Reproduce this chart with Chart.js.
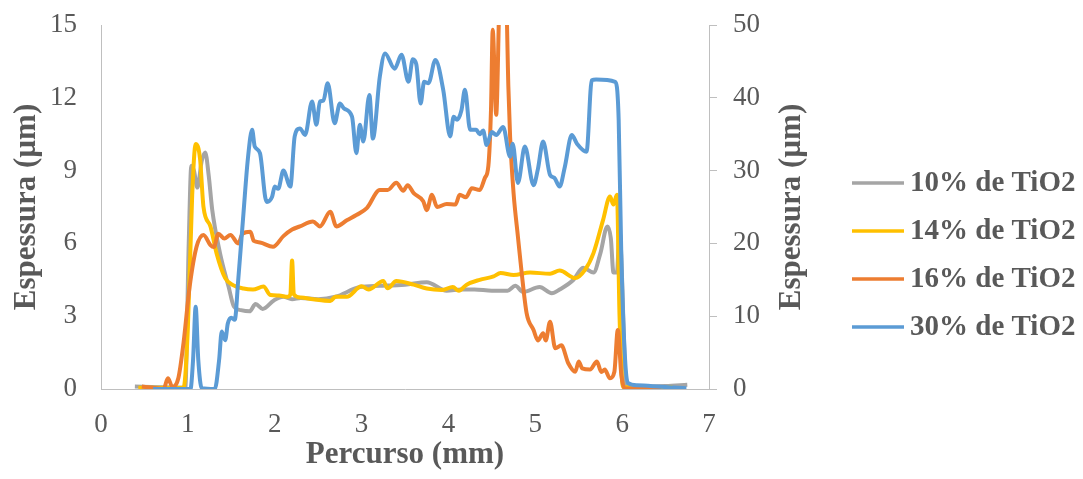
<!DOCTYPE html>
<html>
<head>
<meta charset="utf-8">
<script src="https://cdn.jsdelivr.net/npm/chart.js@4.4.1/dist/chart.umd.min.js"></script>
<style>
  body { margin: 0; background: #fff; }
  canvas { display: block; }
</style>
</head>
<body>
<canvas id="myChart" width="1083" height="479"></canvas>
<script>
'use strict';

let seriesNames = ['10% de TiO2', '14% de TiO2', '16% de TiO2', '30% de TiO2'];

let x10 = [0.39, 0.97, 1.01, 1.04, 1.07, 1.11, 1.16, 1.2, 1.24, 1.28, 1.37, 1.47, 1.53, 1.61, 1.71, 1.78, 1.86, 1.99, 2.1, 2.2, 2.3, 2.5, 2.7, 2.98, 3.21, 3.5, 3.75, 3.98, 4.15, 4.3, 4.5, 4.68, 4.77, 4.86, 5.05, 5.19, 5.28, 5.44, 5.55, 5.67, 5.75, 5.83, 5.87, 5.9, 5.94, 5.97, 6.05, 6.3, 6.5, 6.75];
let y10 = [0.1, 0.05, 6, 9.2, 9.0, 8.3, 9.4, 9.75, 8.8, 7.4, 5.6, 4.2, 3.4, 3.25, 3.2, 3.5, 3.3, 3.65, 3.8, 3.7, 3.75, 3.7, 3.8, 4.2, 4.25, 4.3, 4.4, 4.05, 4.1, 4.1, 4.05, 4.05, 4.25, 4.0, 4.2, 3.95, 4.1, 4.5, 5.0, 4.8, 5.6, 6.7, 6.2, 4.8, 4.8, 6.5, 0.1, 0.1, 0.12, 0.18];

let x14 = [0.43, 0.95, 1.0, 1.05, 1.09, 1.14, 1.18, 1.26, 1.33, 1.43, 1.52, 1.64, 1.75, 1.87, 1.95, 2.05, 2.15, 2.18, 2.2, 2.22, 2.3, 2.44, 2.64, 2.7, 2.83, 3.0, 3.08, 3.25, 3.3, 3.4, 3.6, 3.75, 3.92, 4.05, 4.12, 4.21, 4.36, 4.52, 4.6, 4.75, 4.94, 5.17, 5.28, 5.46, 5.57, 5.67, 5.78, 5.86, 5.9, 5.94, 5.97, 6.01, 6.3, 6.58];
let y14 = [0.05, 0.05, 2.5, 8, 10.1, 9.5, 7.5, 6.7, 5.6, 4.57, 4.28, 4.14, 4.1, 4.22, 3.87, 3.85, 3.8, 3.9, 5.3, 3.9, 3.77, 3.7, 3.63, 3.8, 3.8, 4.23, 4.1, 4.45, 4.15, 4.45, 4.3, 4.14, 4.08, 4.2, 4.05, 4.3, 4.5, 4.64, 4.78, 4.7, 4.8, 4.75, 4.88, 4.57, 4.9, 5.6, 6.96, 7.93, 7.6, 8.0, 3, 0.08, 0.05, 0.08];

let x16 = [0.47, 0.6, 0.72, 0.77, 0.82, 0.89, 0.95, 1.02, 1.1, 1.18, 1.26, 1.3, 1.35, 1.42, 1.49, 1.58, 1.63, 1.72, 1.76, 1.83, 1.98, 2.1, 2.2, 2.29, 2.44, 2.52, 2.64, 2.71, 2.83, 2.94, 3.06, 3.21, 3.3, 3.4, 3.48, 3.53, 3.6, 3.71, 3.75, 3.81, 3.87, 3.98, 4.08, 4.13, 4.2, 4.27, 4.36, 4.42, 4.46, 4.49, 4.51, 4.55, 4.59, 4.62, 4.66, 4.69, 4.71, 4.75, 4.8, 4.84, 4.9, 4.98, 5.03, 5.09, 5.12, 5.17, 5.23, 5.3, 5.38, 5.46, 5.5, 5.54, 5.63, 5.71, 5.76, 5.8, 5.86, 5.91, 5.95, 5.99, 6.03, 6.2, 6.45];
let y16 = [0.1, 0.05, 0, 0.44, 0.1, 0.44, 1.9, 4.2, 5.86, 6.35, 5.93, 5.85, 6.4, 6.2, 6.35, 6.0, 6.4, 6.48, 6.1, 6.04, 5.86, 6.3, 6.57, 6.7, 6.9, 6.7, 7.3, 6.7, 6.95, 7.17, 7.45, 8.2, 8.2, 8.5, 8.17, 8.4, 8.07, 7.74, 7.37, 8.0, 7.5, 7.62, 7.6, 8.0, 7.9, 8.27, 8.2, 8.7, 9.2, 11.5, 14.8, 11.3, 16.5, 18, 17, 12.46, 10.4, 8.07, 6.28, 4.9, 3.13, 2.43, 2.0, 2.3, 2.0, 2.77, 1.68, 1.8, 1.06, 0.71, 1.13, 0.85, 0.8, 1.13, 0.7, 0.8, 0.44, 0.7, 2.43, 0.6, 0.02, 0.02, 0.05];

let x30 = [0.6, 1.03, 1.06, 1.09, 1.12, 1.16, 1.31, 1.36, 1.39, 1.43, 1.46, 1.5, 1.54, 1.58, 1.64, 1.69, 1.74, 1.77, 1.83, 1.89, 1.91, 1.97, 2.0, 2.04, 2.1, 2.18, 2.23, 2.29, 2.35, 2.43, 2.48, 2.52, 2.56, 2.61, 2.69, 2.75, 2.8, 2.89, 2.94, 2.98, 3.02, 3.09, 3.13, 3.21, 3.27, 3.38, 3.46, 3.54, 3.59, 3.63, 3.68, 3.72, 3.77, 3.85, 3.94, 4.02, 4.06, 4.1, 4.15, 4.19, 4.25, 4.32, 4.36, 4.4, 4.44, 4.5, 4.55, 4.63, 4.71, 4.74, 4.8, 4.88, 4.98, 5.03, 5.09, 5.17, 5.22, 5.28, 5.34, 5.42, 5.48, 5.59, 5.65, 5.7, 5.92, 5.96, 5.99, 6.03, 6.07, 6.17, 6.45, 6.74];
let y30 = [0, 0, 4, 11.3, 4, 0.1, 0, 4, 7.9, 6.7, 9.0, 9.8, 9.5, 15, 24.1, 31.5, 35.6, 33.3, 32.4, 26.4, 25.7, 26.4, 27.8, 27.5, 30.0, 27.8, 34.7, 35.8, 34.9, 39.5, 36.3, 39.5, 39.6, 42, 36.5, 39.2, 38.5, 37.4, 32.4, 36.3, 34, 40.4, 34.4, 42.9, 46.1, 44, 45.9, 42.2, 45.3, 44.6, 39.2, 42.2, 42, 45.2, 41.1, 34.7, 37.4, 37.0, 38.3, 41.1, 35.6, 35.6, 35.0, 35.5, 33.5, 35.3, 34.9, 36, 31.9, 33.7, 28.3, 33.3, 28, 30.2, 34, 29.4, 29.0, 27.8, 30.5, 34.9, 33.7, 32.6, 42.4, 42.5, 42.2, 37, 18.6, 4.9, 0.8, 0.5, 0.3, 0.1];

let xTicks = [0, 7, 1];
let leftTicks = [0, 15, 3];
let rightTicks = [0, 50, 10];

let colors = ['#A5A5A5', '#FFC000', '#ED7D31', '#5B9BD5'];
let textColor = '#595959';
let axisColor = '#BFBFBF';
let fontName = '"Liberation Serif", "Times New Roman", serif';

function points(xs, ys) {
    let out = [];
    for (let i = 0; i < xs.length; i++) {
        out.push({ x: xs[i], y: ys[i] });
    }
    return out;
}

function makeSet(i, xs, ys, axis, order) {
    return {
        label: seriesNames[i],
        data: points(xs, ys),
        borderColor: colors[i],
        backgroundColor: colors[i],
        borderWidth: 4,
        pointRadius: 0,
        cubicInterpolationMode: 'monotone',
        yAxisID: axis,
        order: order
    };
}

// fixed box sizes so the plot area lands where Excel put it
function fixWidth(w) {
    return function(s) {
        s.width = w;
        s.paddingTop = 0;
        s.paddingBottom = 0;
    };
}

// legend and right axis title are drawn by hand (Excel style)
let extras = {
    id: 'extras',
    afterDraw(chart) {
        let ctx = chart.ctx;
        ctx.save();
        ctx.fillStyle = textColor;
        ctx.font = 'bold 31px ' + fontName;
        ctx.textAlign = 'center';
        ctx.textBaseline = 'middle';
        ctx.translate(792, (chart.chartArea.top + chart.chartArea.bottom) / 2);
        ctx.rotate(-Math.PI / 2);
        ctx.fillText('Espessura (µm)', 0, 0);
        ctx.restore();

        ctx.save();
        ctx.font = 'bold 29px ' + fontName;
        ctx.textAlign = 'left';
        ctx.textBaseline = 'middle';
        for (let i = 0; i < seriesNames.length; i++) {
            let y = 183 + i * 48;
            ctx.strokeStyle = colors[i];
            ctx.lineWidth = 3.5;
            ctx.beginPath();
            ctx.moveTo(852, y);
            ctx.lineTo(904, y);
            ctx.stroke();
            ctx.fillStyle = textColor;
            ctx.fillText(seriesNames[i], 910, y + 1);
        }
        ctx.restore();
    }
};

let ctx = document.getElementById('myChart').getContext('2d');
let myChart = new Chart(ctx, {
    type: 'line',
    data: {
        datasets: [
            makeSet(0, x10, y10, 'y', 3),
            makeSet(1, x14, y14, 'y', 2),
            makeSet(2, x16, y16, 'y', 1),
            makeSet(3, x30, y30, 'y2', 0)
        ]
    },
    options: {
        responsive: false,
        animation: false,
        layout: { padding: { top: 25, left: 0, right: 0, bottom: 0 } },
        plugins: {
            legend: { display: false },
            tooltip: { enabled: false }
        },
        scales: {
            x: {
                type: 'linear',
                min: xTicks[0],
                max: xTicks[1],
                afterFit: s => { s.height = 90; },
                ticks: {
                    stepSize: xTicks[2],
                    color: textColor,
                    padding: 20,
                    font: { family: fontName, size: 27 }
                },
                grid: { display: false, drawTicks: false },
                border: { display: true, color: axisColor, width: 1 },
                title: {
                    display: true,
                    text: 'Percurso (mm)',
                    color: textColor,
                    padding: { top: 0, bottom: 5 },
                    font: { family: fontName, size: 31, weight: 'bold' }
                }
            },
            y: {
                position: 'left',
                min: leftTicks[0],
                max: leftTicks[1],
                afterFit: fixWidth(101),
                ticks: {
                    stepSize: leftTicks[2],
                    color: textColor,
                    padding: 24,
                    font: { family: fontName, size: 27 }
                },
                grid: { display: false, drawTicks: false },
                border: { display: true, color: axisColor, width: 1 },
                title: {
                    display: true,
                    text: 'Espessura (µm)',
                    color: textColor,
                    padding: { top: 8, bottom: 0 },
                    font: { family: fontName, size: 31, weight: 'bold' }
                }
            },
            y2: {
                position: 'right',
                min: rightTicks[0],
                max: rightTicks[1],
                afterFit: fixWidth(374),
                ticks: {
                    stepSize: rightTicks[2],
                    color: textColor,
                    padding: 16,
                    font: { family: fontName, size: 27 }
                },
                grid: {
                    display: true,
                    drawOnChartArea: false,
                    drawTicks: true,
                    tickLength: 8,
                    color: axisColor,
                    lineWidth: 1
                },
                border: { display: true, color: axisColor, width: 1 }
            }
        }
    },
    plugins: [extras]
});
</script>
</body>
</html>
